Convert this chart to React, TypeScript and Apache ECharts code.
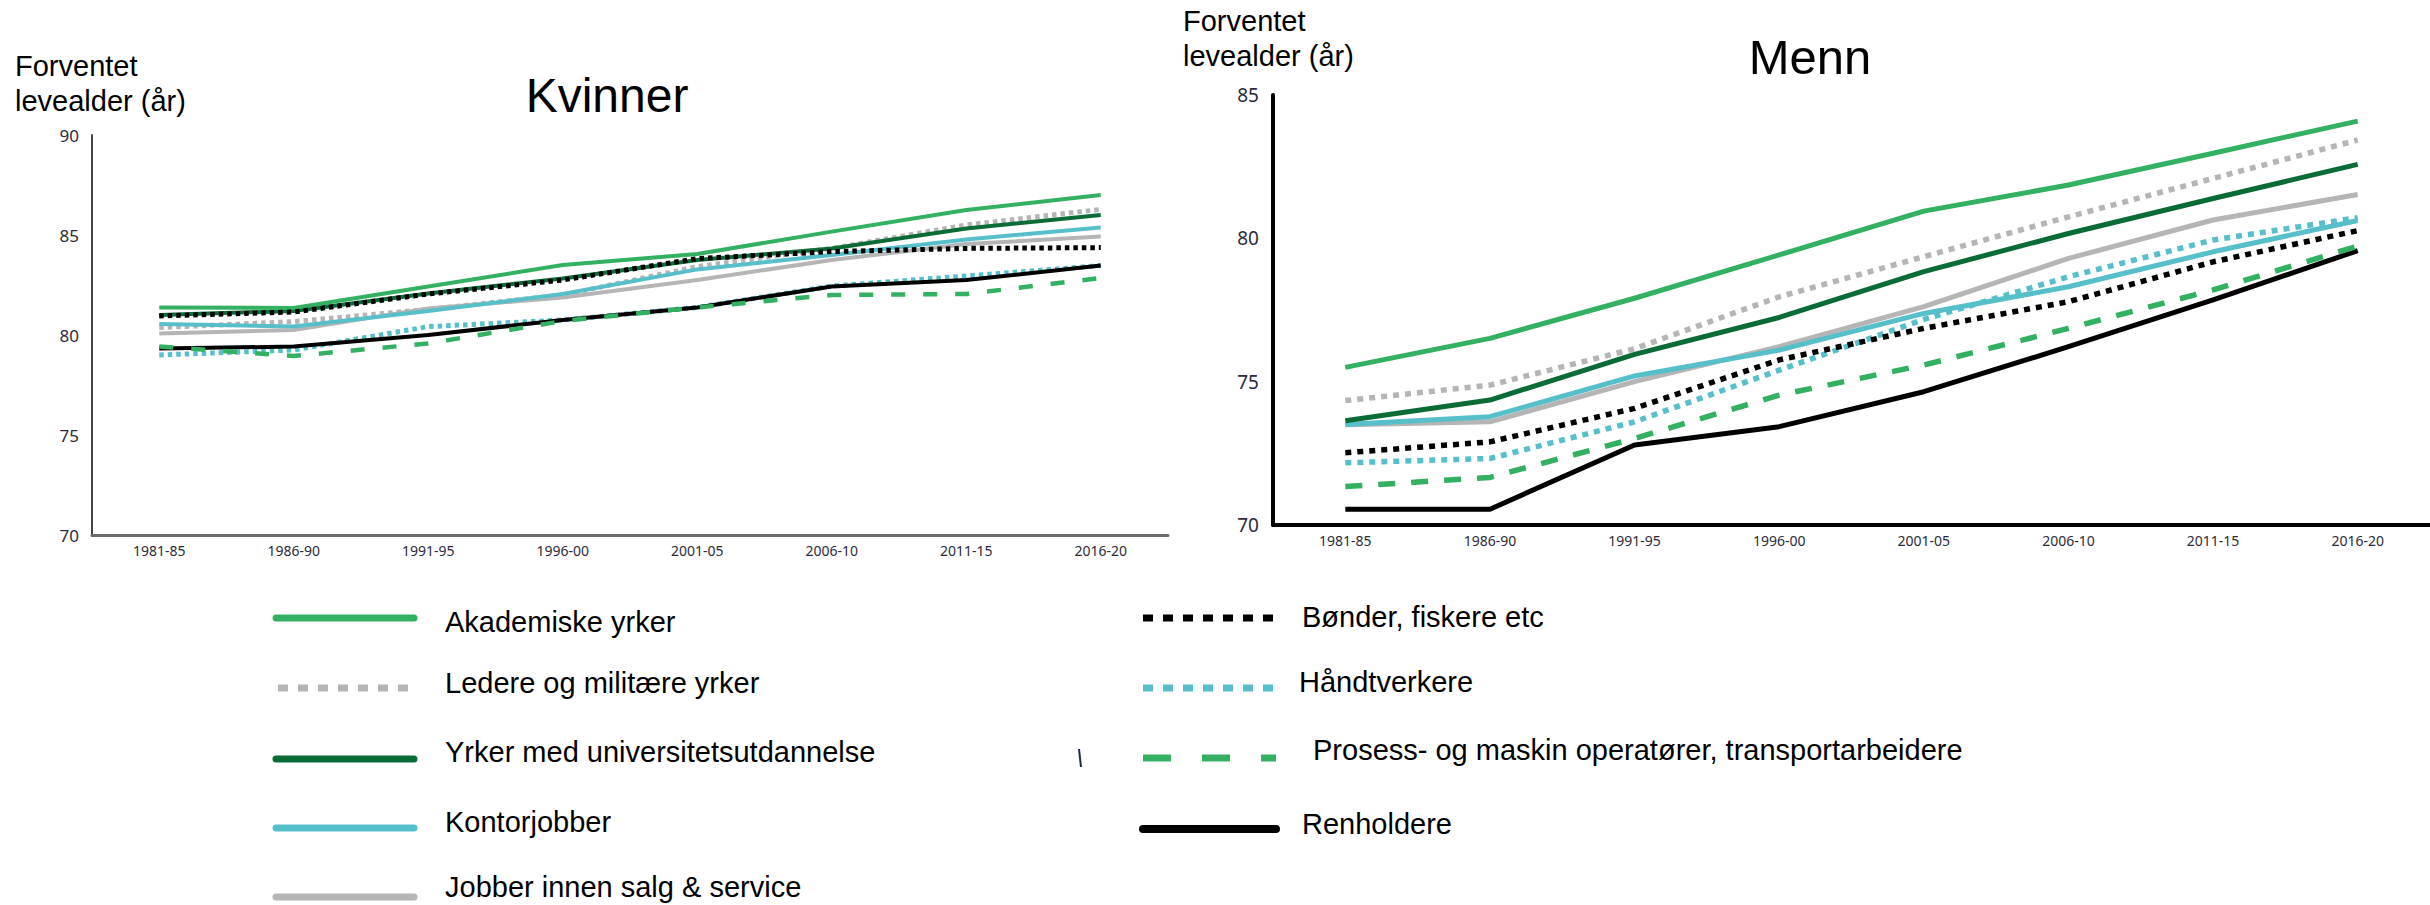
import React, { useEffect, useRef } from "react";
import * as echarts from "echarts";

const categories = ["1981-85", "1986-90", "1991-95", "1996-00", "2001-05", "2006-10", "2011-15", "2016-20"];

const seriesNames = [
  "Akademiske yrker",
  "Ledere og militære yrker",
  "Yrker med universitetsutdannelse",
  "Kontorjobber",
  "Jobber innen salg & service",
  "Bønder, fiskere etc",
  "Håndtverkere",
  "Prosess- og maskin operatører, transportarbeidere",
  "Renholdere",
];

const kvinnerTicks = [70, 75, 80, 85, 90];
const mennTicks = [70, 75, 80, 85];

// Kvinner
const kAkademiske = [81.38, 81.35, 82.42, 83.5, 84.05, 85.17, 86.25, 87.0];
const kLedere = [80.37, 80.67, 81.28, 82.0, 83.42, 84.33, 85.5, 86.28];
const kYrker = [81.0, 81.2, 82.08, 82.83, 83.75, 84.33, 85.33, 86.0];
const kKontor = [80.55, 80.42, 81.2, 82.05, 83.28, 84.0, 84.78, 85.37];
const kSalg = [80.08, 80.25, 81.33, 81.88, 82.75, 83.75, 84.55, 84.92];
const kBonder = [80.95, 81.15, 82.05, 82.75, 83.82, 84.17, 84.33, 84.37];
const kHandtverk = [79.0, 79.25, 80.42, 80.75, 81.38, 82.45, 82.95, 83.47];
const kProsess = [79.42, 78.95, 79.58, 80.7, 81.38, 82.0, 82.05, 82.85];
const kRenholdere = [79.33, 79.42, 80.0, 80.75, 81.38, 82.42, 82.75, 83.47];

// Menn
const mAkademiske = [75.5, 76.51, 77.91, 79.42, 80.95, 81.86, 82.97, 84.09];
const mLedere = [74.34, 74.88, 76.15, 77.96, 79.36, 80.75, 82.09, 83.43];
const mYrker = [73.64, 74.36, 75.95, 77.24, 78.84, 80.17, 81.39, 82.58];
const mKontor = [73.51, 73.78, 75.2, 76.1, 77.38, 78.31, 79.53, 80.62];
const mSalg = [73.5, 73.6, 75.0, 76.22, 77.62, 79.3, 80.64, 81.53];
const mBonder = [72.52, 72.9, 74.07, 75.76, 76.86, 77.79, 79.18, 80.27];
const mHandtverk = [72.17, 72.32, 73.6, 75.4, 77.17, 78.66, 79.94, 80.72];
const mProsess = [71.34, 71.66, 73.02, 74.53, 75.58, 76.86, 78.2, 79.73];
const mRenholdere = [70.55, 70.55, 72.79, 73.43, 74.65, 76.22, 77.85, 79.57];

const kvinnerData = [kAkademiske, kLedere, kYrker, kKontor, kSalg, kBonder, kHandtverk, kProsess, kRenholdere];
const mennData = [mAkademiske, mLedere, mYrker, mKontor, mSalg, mBonder, mHandtverk, mProsess, mRenholdere];

const GREEN = "#33b061";
const DARK_GREEN = "#0b6b36";
const CYAN = "#57bfca";
const GRAY = "#b5b5b5";
const BLACK = "#000000";

const styles = [
  { color: GREEN, kind: "solid" },
  { color: GRAY, kind: "dot" },
  { color: DARK_GREEN, kind: "solid" },
  { color: CYAN, kind: "solid" },
  { color: GRAY, kind: "solid" },
  { color: BLACK, kind: "dot" },
  { color: CYAN, kind: "dot" },
  { color: GREEN, kind: "dash" },
  { color: BLACK, kind: "solid" },
];

const drawOrder = [4, 1, 3, 2, 0, 6, 8, 7, 5];

const LATIN = "'Liberation Sans', Arial, sans-serif";
const TICK = "'Noto Sans', 'DejaVu Sans', sans-serif";

export default function App() {
  const ref = useRef<HTMLDivElement>(null);

  useEffect(() => {
    if (!ref.current) return;
    const chart = echarts.init(ref.current, undefined, { renderer: "svg" });

    const makeLine = (gi: number, idx: number, data: number[]) => {
      const st = styles[idx];
      const big = gi === 1;
      let width = big ? 5 : 4;
      let type: any = "solid";
      if (st.kind === "dot") {
        width = big ? 5.5 : 5;
        type = big ? [6, 6] : [4.5, 4];
      } else if (st.kind === "dash") {
        width = big ? 5.5 : 4.5;
        type = big ? [17, 16] : [14, 18];
      }
      return {
        type: "line",
        name: seriesNames[idx],
        xAxisIndex: gi,
        yAxisIndex: gi,
        data,
        symbol: "none",
        showSymbol: false,
        silent: true,
        lineStyle: { color: st.color, width, type, cap: "butt", join: "round" },
        z: 2,
      };
    };

    const series: any[] = [];
    drawOrder.forEach((i) => series.push(makeLine(0, i, kvinnerData[i])));
    drawOrder.forEach((i) => series.push(makeLine(1, i, mennData[i])));

    const legendLeft = [0, 1, 2, 3, 4];
    const legendRight = [5, 6, 7, 8];
    const leftLineY = [618, 688, 759, 828, 897];
    const leftTextY = [622, 683, 752, 822, 887];
    const rightLineY = [618, 688, 758, 829];
    const rightTextY = [617, 682, 750, 824];
    const rightTextX = [1302, 1299, 1313, 1302];

    const legendDash = (idx: number) => {
      const st = styles[idx];
      if (st.kind === "dot") return [10, 10];
      if (st.kind === "dash") return [28, 31];
      return null;
    };

    const graphics: any[] = [];
    legendLeft.forEach((idx, k) => {
      const dash = legendDash(idx);
      graphics.push({
        type: "line",
        shape: { x1: dash ? 278 : 276, y1: leftLineY[k], x2: dash ? 412 : 414, y2: leftLineY[k] },
        style: { stroke: styles[idx].color, lineWidth: 7, lineDash: dash || undefined, lineCap: dash ? "butt" : "round" },
      });
      graphics.push({
        type: "text",
        x: 445,
        y: leftTextY[k],
        style: { text: seriesNames[idx], font: `29px ${LATIN}`, fill: "#000", verticalAlign: "middle", align: "left" },
      });
    });
    legendRight.forEach((idx, k) => {
      const dash = legendDash(idx);
      graphics.push({
        type: "line",
        shape: { x1: 1143, y1: rightLineY[k], x2: 1276, y2: rightLineY[k] },
        style: {
          stroke: styles[idx].color,
          lineWidth: idx === 8 ? 8 : 7,
          lineDash: dash || undefined,
          lineCap: dash ? "butt" : "round",
        },
      });
      graphics.push({
        type: "text",
        x: rightTextX[k],
        y: rightTextY[k],
        style: { text: seriesNames[idx], font: `29px ${LATIN}`, fill: "#000", verticalAlign: "middle", align: "left" },
      });
    });

    graphics.push({
      type: "line",
      shape: { x1: 1079, y1: 749, x2: 1081, y2: 767 },
      style: { stroke: "#1c2a48", lineWidth: 2 },
    });

    graphics.push(
      { type: "text", x: 607, y: 95, style: { text: "Kvinner", font: `48px ${LATIN}`, fill: "#000", align: "center", verticalAlign: "middle" } },
      { type: "text", x: 1810, y: 57, style: { text: "Menn", font: `49px ${LATIN}`, fill: "#000", align: "center", verticalAlign: "middle" } },
      { type: "text", x: 15, y: 66, style: { text: "Forventet", font: `29px ${LATIN}`, fill: "#000", verticalAlign: "middle" } },
      { type: "text", x: 15, y: 101, style: { text: "levealder (år)", font: `29px ${LATIN}`, fill: "#000", verticalAlign: "middle" } },
      { type: "text", x: 1183, y: 21, style: { text: "Forventet", font: `29px ${LATIN}`, fill: "#000", verticalAlign: "middle" } },
      { type: "text", x: 1183, y: 56, style: { text: "levealder (år)", font: `29px ${LATIN}`, fill: "#000", verticalAlign: "middle" } }
    );

    const option: any = {
      animation: false,
      backgroundColor: "#ffffff",
      grid: [
        { left: 92, top: 135, width: 1076, height: 400 },
        { left: 1273, top: 95, width: 1157, height: 430 },
      ],
      xAxis: [
        {
          type: "category",
          gridIndex: 0,
          data: categories,
          boundaryGap: true,
          axisLine: { lineStyle: { color: "#6b6b6b", width: 3 } },
          axisTick: { show: false },
          axisLabel: { color: "#2b2b3a", fontSize: 14, fontFamily: TICK, margin: 8 },
        },
        {
          type: "category",
          gridIndex: 1,
          data: categories,
          boundaryGap: true,
          axisLine: { lineStyle: { color: "#000", width: 4 } },
          axisTick: { show: false },
          axisLabel: { color: "#2b2b3a", fontSize: 14, fontFamily: TICK, margin: 8 },
        },
      ],
      yAxis: [
        {
          type: "value",
          gridIndex: 0,
          min: kvinnerTicks[0],
          max: kvinnerTicks[kvinnerTicks.length - 1],
          interval: 5,
          axisLine: { show: true, lineStyle: { color: "#444", width: 2 } },
          axisTick: { show: false },
          splitLine: { show: false },
          axisLabel: { color: "#2b2b3a", fontSize: 17, fontFamily: TICK, margin: 13 },
        },
        {
          type: "value",
          gridIndex: 1,
          min: mennTicks[0],
          max: mennTicks[mennTicks.length - 1],
          interval: 5,
          axisLine: { show: true, lineStyle: { color: "#000", width: 4 } },
          axisTick: { show: false },
          splitLine: { show: false },
          axisLabel: { color: "#2b2b3a", fontSize: 19, fontFamily: TICK, margin: 14 },
        },
      ],
      series,
      graphic: graphics,
    };

    chart.setOption(option);
    return () => chart.dispose();
  }, []);

  return (
    <div
      ref={ref}
      style={{ position: "fixed", left: 0, top: 0, width: 2430, height: 905, background: "#fff" }}
    />
  );
}
